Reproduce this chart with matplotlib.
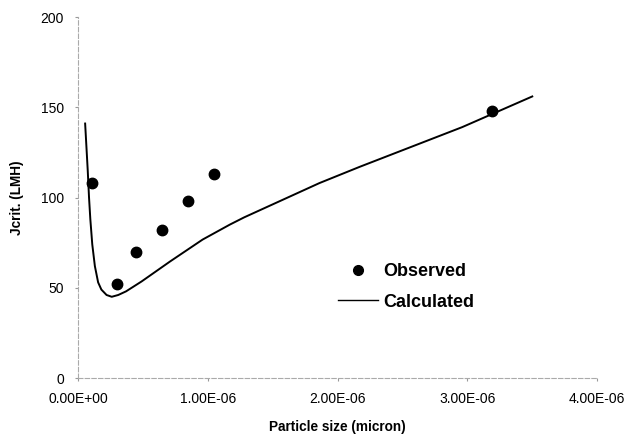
import matplotlib
matplotlib.use('Agg')
import matplotlib.pyplot as plt

plt.rcParams['font.family'] = ['Liberation Sans', 'DejaVu Sans']

# observed critical flux (LMH) vs particle size
obs_size = [0.11e-6, 0.30e-6, 0.45e-6, 0.65e-6, 0.85e-6, 1.05e-6, 3.19e-6]
obs_flux = [108, 52, 70, 82, 98, 113, 148]

# calculated curve
calc_size = [0.055e-6, 0.065e-6, 0.075e-6, 0.085e-6, 0.095e-6, 0.11e-6,
             0.13e-6, 0.155e-6, 0.18e-6, 0.22e-6, 0.26e-6, 0.31e-6, 0.37e-6,
             0.49e-6, 0.71e-6, 0.96e-6, 1.17e-6, 1.28e-6, 1.86e-6, 2.17e-6,
             2.96e-6, 3.50e-6]
calc_flux = [141, 128, 115, 100, 88, 74, 62, 53, 49, 46, 45, 46, 48, 53.5,
             64.6, 76.7, 85, 89, 108, 117, 139, 156]

xticks = [0, 1e-6, 2e-6, 3e-6, 4e-6]
xticklabels = ['0.00E+00', '1.00E-06', '2.00E-06', '3.00E-06', '4.00E-06']
yticks = [0, 50, 100, 150, 200]

fig = plt.figure(figsize=(6.27, 4.37), dpi=100)
ax = fig.add_axes([0.1244, 0.135, 0.828, 0.826])

ax.plot(calc_size, calc_flux, color='black', lw=1.4, label='Calculated')
ax.plot(obs_size, obs_flux, 'o', color='black', ms=7.5, label='Observed')

ax.set_xlim(0, 4e-6)
ax.set_ylim(0, 200)
ax.set_xticks(xticks)
ax.set_xticklabels(xticklabels)
ax.set_yticks(yticks)
ax.tick_params(labelsize=10, length=2, color='#999999', pad=8)

# faint scanned-looking axes
for s in ['top', 'right']:
    ax.spines[s].set_visible(False)
for s in ['left', 'bottom']:
    ax.spines[s].set_color('#aaaaaa')
    ax.spines[s].set_linewidth(0.8)
    ax.spines[s].set_linestyle((0, (4, 2)))

ax.set_xlabel('Particle size (micron)', fontsize=9.8, fontweight='bold', labelpad=10)
ax.set_ylabel('Jcrit. (LMH)', fontsize=9.8, fontweight='bold', labelpad=12)

handles, labels = ax.get_legend_handles_labels()
leg = ax.legend(handles[::-1], labels[::-1], loc='center left',
                bbox_to_anchor=(0.47, 0.252), frameon=False,
                prop={'weight': 'bold', 'size': 13}, handlelength=2.2,
                handletextpad=0.28, labelspacing=0.75)
for h in leg.legend_handles:
    if h.get_label() == 'Calculated':
        h.set_linewidth(1.0)
    else:
        h.set_markersize(7)

fig.savefig('out.png', dpi=100)
